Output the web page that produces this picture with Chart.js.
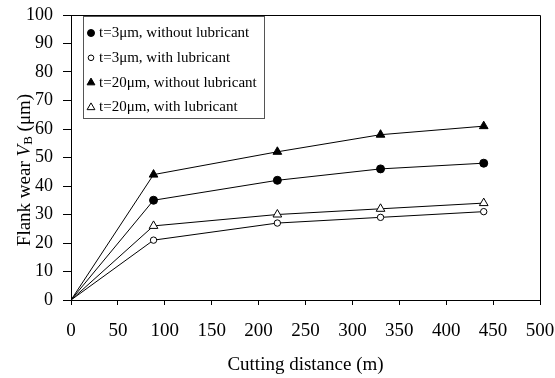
<!DOCTYPE html>
<html><head><meta charset="utf-8">
<script src="https://cdn.jsdelivr.net/npm/chart.js@4"></script>
<style>html,body{margin:0;padding:0;background:#fff}#wrap{width:555px;height:378px}</style>
</head><body><div id="wrap"><canvas id="c" width="555" height="378"></canvas></div>
<script>
const distances = [0, 88, 220, 330, 440];
const t3Without = [0, 35, 42, 46, 48];
const t3With = [0, 21, 27, 29, 31];
const t20Without = [0, 44, 52, 58, 61];
const t20With = [0, 26, 30, 32, 34];
const xTicks = [0, 50, 100, 150, 200, 250, 300, 350, 400, 450, 500];
const yTicks = [0, 10, 20, 30, 40, 50, 60, 70, 80, 90, 100];
const labels = ['t=3\u03bcm, without lubricant','t=3\u03bcm, with lubricant','t=20\u03bcm, without lubricant','t=20\u03bcm, with lubricant'];

const SERIF = '"Liberation Serif", "Times New Roman", serif';
function pts(arr){ return distances.map((x,i)=>({x:x,y:arr[i]})); }
function ds(label, arr, style, filled, r, lr){
  return {label, data: pts(arr), borderColor:'#000', borderWidth:1,
    pointStyle: arr.map((v,i)=> i===0 ? false : style),
    pointRadius: r, pointHoverRadius: r, pointBorderColor:'#000', pointBorderWidth:1,
    pointBackgroundColor: filled ? '#000' : '#fff', tension:0, fill:false,
    _legendStyle: style, _legendRadius: lr};
}
const datasets = [
  ds(labels[0], t3Without, 'circle', true, 4, 3.5),
  ds(labels[1], t3With, 'circle', false, 3.2, 2.8),
  ds(labels[2], t20Without, 'triangle', true, 5, 4.5),
  ds(labels[3], t20With, 'triangle', false, 5, 4.5)
];

const framePlugin = {
  id:'frame',
  afterDraw(chart){
    const {ctx, chartArea:a} = chart;
    ctx.save();
    ctx.strokeStyle='#000'; ctx.lineWidth=1;
    ctx.beginPath();
    ctx.moveTo(a.left, a.top+0.5); ctx.lineTo(a.right+0.5, a.top+0.5); ctx.lineTo(a.right+0.5, a.bottom);
    ctx.stroke();
    // y title with italic V and subscript B
    ctx.translate(25, 170);
    ctx.rotate(-Math.PI/2);
    ctx.fillStyle='#000'; ctx.textBaseline='middle';
    const parts = [
      {t:'Flank wear ', f:'19px '+SERIF, dy:0},
      {t:'V', f:'italic 19px '+SERIF, dy:0},
      {t:'B', f:'13px '+SERIF, dy:4},
      {t:' (\u03bcm)', f:'19px '+SERIF, dy:0}
    ];
    let w=0; parts.forEach(p=>{ctx.font=p.f; p.w=ctx.measureText(p.t).width; w+=p.w;});
    let x=-w/2;
    parts.forEach(p=>{ctx.font=p.f; ctx.textAlign='left'; ctx.fillText(p.t, x, p.dy); x+=p.w;});
    ctx.restore();
    // legend
    ctx.save();
    const bx=a.left+12, by=a.top+1, bw=181, bh=102;
    ctx.strokeStyle='#555'; ctx.lineWidth=1;
    ctx.strokeRect(bx+0.5, by+0.5, bw, bh);
    ctx.font='15px '+SERIF; ctx.textBaseline='middle'; ctx.textAlign='left'; ctx.fillStyle='#000';
    chart.data.datasets.forEach((d,i)=>{
      const y = by + 17 + i*24.8;
      const mx = bx + 8;
      ctx.fillStyle = d.pointBackgroundColor; ctx.strokeStyle='#000'; ctx.lineWidth=1;
      Chart.helpers.drawPoint(ctx, {pointStyle:d._legendStyle, radius: d._legendRadius, rotation:0, borderWidth:1}, mx, y);
      ctx.fillStyle='#000';
      ctx.fillText(d.label, bx+16, y);
    });
    ctx.restore();
  }
};

new Chart(document.getElementById('c'), {
  type:'line',
  data:{datasets},
  options:{
    responsive:false, animation:false, devicePixelRatio:1,
    layout:{padding:{left:0,right:15,top:15,bottom:0}},
    plugins:{legend:{display:false}, tooltip:{enabled:false}},
    scales:{
      x:{type:'linear', min:0, max:500,
        afterBuildTicks(s){ s.ticks = xTicks.map(v=>({value:v})); },
        afterFit(s){ s.height = 78; s.paddingLeft = 0; s.paddingRight = 0; },
        grid:{display:true, drawOnChartArea:false, drawTicks:true, tickLength:5, color:'#000'},
        border:{display:true, color:'#000', width:1},
        ticks:{font:{family:SERIF, size:19}, color:'#000', padding:15, maxRotation:0},
        title:{display:true, text:'Cutting distance (m)', font:{family:SERIF, size:19}, color:'#000', padding:{top:4, bottom:2}}
      },
      y:{type:'linear', min:0, max:100,
        afterBuildTicks(s){ s.ticks = yTicks.map(v=>({value:v})); },
        afterFit(s){ s.width = 71; s.paddingTop = 0; s.paddingBottom = 0; },
        grid:{display:true, drawOnChartArea:false, drawTicks:true, tickLength:8, color:'#000'},
        border:{display:true, color:'#000', width:1},
        ticks:{font:{family:SERIF, size:18}, color:'#000', padding:10}
      }
    }
  },
  plugins:[framePlugin]
});
</script></body></html>
